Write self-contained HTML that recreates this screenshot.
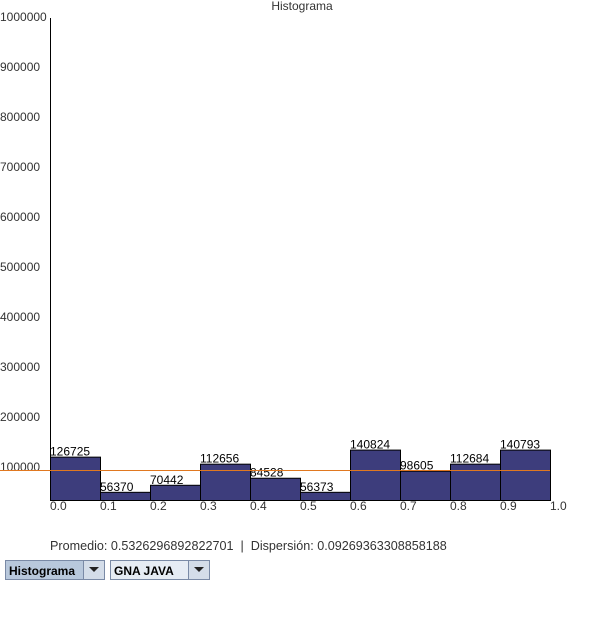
<!DOCTYPE html>
<html><head><meta charset="utf-8"><style>
body{margin:0;width:600px;height:620px;background:#fff;font-family:"Liberation Sans",sans-serif;position:relative;overflow:hidden}
.dd{position:absolute;top:560px;height:20px;border:1px solid #7a8aa6;background:#e6ecf4;font:bold 12px "Liberation Sans",sans-serif;box-sizing:border-box}
.dd span{position:absolute;left:3px;top:3px}
.dd .btn{position:absolute;right:0;top:0;width:20px;height:18px;border-left:1px solid #7a8aa6;background:#d4dde9}
.dd .btn:after{content:"";position:absolute;left:5px;top:6px;border-left:5px solid transparent;border-right:5px solid transparent;border-top:5px solid #222}
</style></head><body>
<svg id="chart" width="600" height="530" style="position:absolute;left:0;top:0" font-family="Liberation Sans, sans-serif" font-size="12"></svg>
<div style="position:absolute;left:50px;top:539px;font-size:12.6px;color:#333">Promedio: 0.5326296892822701 &nbsp;| &nbsp;Dispersión: 0.09269363308858188</div>
<div class="dd" style="left:5px;width:100px;background:#b8c8dc"><span>Histograma</span><div class="btn"></div></div>
<div class="dd" style="left:110px;width:100px"><span>GNA JAVA</span><div class="btn"></div></div>
<script>
const bins=["0.0","0.1","0.2","0.3","0.4","0.5","0.6","0.7","0.8","0.9"];
const counts=[126725,56370,70442,112656,84528,56373,140824,98605,112684,140793];
const yTicks=[100000,200000,300000,400000,500000,600000,700000,800000,900000,1000000];
const xTicks=["0.0","0.1","0.2","0.3","0.4","0.5","0.6","0.7","0.8","0.9","1.0"];
const meanLine=[100000];
const svg=document.getElementById('chart');const NS='http://www.w3.org/2000/svg';
const x0=50,bw=50,yMin=40000,yBase=500,pxPer=2000;
const y=v=>yBase-(v-yMin)/pxPer;
const x=i=>x0+i*bw;
function mk(t,a,txt){const e=document.createElementNS(NS,t);for(const k in a)e.setAttribute(k,a[k]);if(txt!=null)e.textContent=txt;svg.appendChild(e);return e;}
let t=mk('text',{x:302,y:10,'text-anchor':'middle',fill:'#333'},'Histograma');


yTicks.forEach(v=>{const e=mk('text',{x:0,y:y(v)+1,fill:'#333'},String(v));

});
counts.forEach((c,i)=>{const r=mk('rect',{x:x(i)+0.5,y:y(c)+0.5,width:bw,height:yBase-y(c),fill:'#3d3d7c',stroke:'#000','stroke-width':1});


const l=mk('text',{x:x(i),y:y(c)-1,fill:'#000'},String(c));

});
xTicks.forEach((s,i)=>{const e=mk('text',{x:x(i),y:510,fill:'#333'},s);

});
const ax=mk('line',{x1:50.5,y1:18,x2:50.5,y2:500,stroke:'#000'});


const ml=mk('line',{x1:0,x2:550,y1:y(meanLine[0])+0.5,y2:y(meanLine[0])+0.5,stroke:'#e07820'});


</script>
</body></html>
